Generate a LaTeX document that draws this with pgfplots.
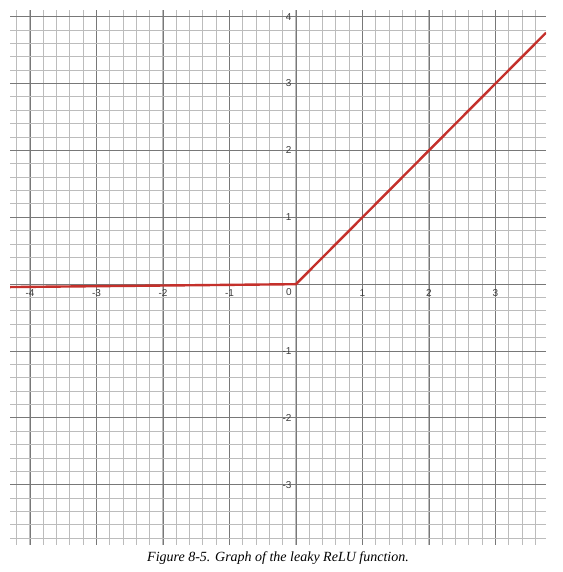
\documentclass[border=0pt]{standalone}
\usepackage{pgfplots}
\pgfplotsset{compat=1.18}
\usepackage{fontspec}
\setmainfont{Liberation Serif}
\newfontfamily\tickfont{Liberation Sans}
\definecolor{reluRed}{RGB}{196,48,43}
\definecolor{majorg}{RGB}{120,120,120}
\definecolor{minorg}{RGB}{188,188,188}
\definecolor{labg}{RGB}{60,60,60}
\begin{document}
\begin{tikzpicture}
\begin{axis}[
  at={(0pt,0pt)}, anchor=south west,
  scale only axis, width=536pt, height=535pt,
  xmin=-4.3, xmax=3.76, ymin=-3.9, ymax=4.1,
  axis lines=middle,
  axis line style={black, line width=0.9pt, -},
  xtick={-4,-3,-2,-1,1,2,3},
  xticklabels={-4,-3,-2,-1,1,2,3},
  ytick={-3,-2,-1,1,2,3,4},
  yticklabels={-3,-2,-1,1,2,3,4},
  minor xtick={-4.2,-4.0,...,3.7},
  minor ytick={-3.8,-3.6,...,4.05},
  extra x ticks={0}, extra x tick labels={},
  extra y ticks={0}, extra y tick labels={},
  extra tick style={grid=major},
  major tick length=0pt, minor tick length=0pt,
  grid=both,
  major grid style={majorg, line width=0.9pt},
  minor grid style={minorg, line width=1pt},
  tick label style={font=\tickfont\fontsize{10}{11}\selectfont, text=labg},
  xticklabel style={anchor=north, yshift=-2pt},
  yticklabel style={anchor=east, xshift=-1pt},
  clip=true,
]
\addplot[reluRed, line width=2.4pt] coordinates {(-4.3,-0.043) (0,0) (3.76,3.76)};
\node[anchor=north east, font=\tickfont\fontsize{10}{11}\selectfont, text=labg, inner sep=1pt] at (axis cs:0,0) [xshift=-3pt,yshift=-3pt] {0};
\end{axis}
\node[font=\itshape\fontsize{14}{16}\selectfont, anchor=center] at (268pt,-13pt) {Figure 8-5. Graph of the leaky ReLU function.};
\pgfresetboundingbox
\useasboundingbox (-10pt,-27pt) rectangle (552pt,545pt);
\end{tikzpicture}
\end{document}
